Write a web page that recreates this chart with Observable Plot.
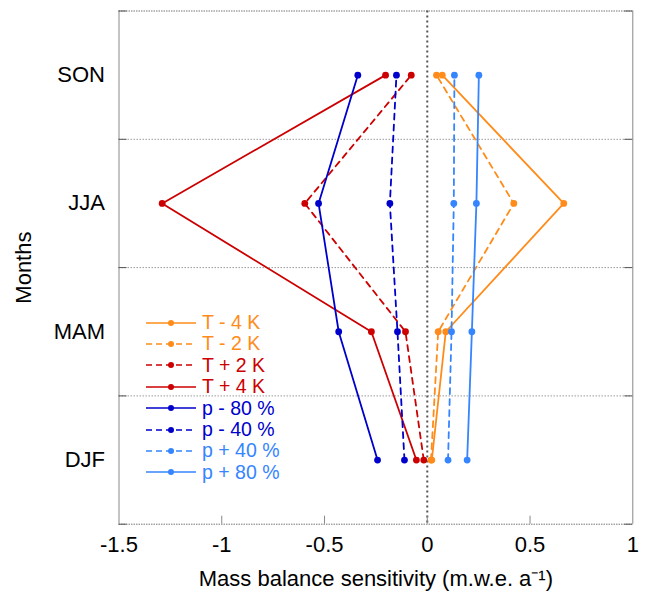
<!DOCTYPE html>
<html><head><meta charset="utf-8">
<script src="https://cdn.jsdelivr.net/npm/d3@7"></script>
<script src="https://cdn.jsdelivr.net/npm/@observablehq/plot@0.6"></script>
<style>
body{margin:0;background:#fff;}
#wrap{position:relative;width:645px;height:598px;font-family:"Liberation Sans",Arial,Helvetica,sans-serif;}
#wrap svg{display:block;}
#legend{position:absolute;left:146px;top:312px;}
.row{display:flex;align-items:center;height:21.4px;}
.row span{font-size:19.5px;margin-left:6px;line-height:1;white-space:pre;}
</style></head><body><div id="wrap"><div id="legend"></div></div>
<script>
// categories (y positions 1..4, bottom to top)
const seasons = ["DJF", "MAM", "JJA", "SON"];
const seasonPos = [1, 2, 3, 4];
const boundaries = [0.5, 1.5, 2.5, 3.5, 4.5];
const xTicks = [-1.5, -1, -0.5, 0, 0.5, 1];

const seriesNames = ["T - 4 K", "T - 2 K", "T + 2 K", "T + 4 K", "p - 80 %", "p - 40 %", "p + 40 %", "p + 80 %"];
const seriesColors = ["#ff8c1a", "#ff8c1a", "#cc0000", "#cc0000", "#0000cc", "#0000cc", "#3585ff", "#3585ff"];
const seriesDash = [null, "6,5", "6,5", null, null, "6,5", "6,5", null];

// values: DJF, MAM, JJA, SON
const tMinus4 = [0.022, 0.090, 0.664, 0.073];
const tMinus2 = [0.018, 0.053, 0.421, 0.045];
const tPlus2  = [-0.017, -0.106, -0.596, -0.078];
const tPlus4  = [-0.053, -0.272, -1.290, -0.203];
const pMinus80 = [-0.242, -0.431, -0.529, -0.338];
const pMinus40 = [-0.111, -0.145, -0.182, -0.150];
const pPlus40  = [0.101, 0.118, 0.129, 0.132];
const pPlus80  = [0.194, 0.217, 0.239, 0.251];
const seriesValues = [tMinus4, tMinus2, tPlus2, tPlus4, pMinus80, pMinus40, pPlus40, pPlus80];

const W = 645, H = 598, mL = 118.5, mR = 12.7, mT = 10.5, mB = 74.3;
const frameH = H - mT - mB, frameW = W - mL - mR;

const seriesMarks = [];
seriesValues.forEach((vals, k) => {
  const data = vals.map((v, i) => ({x: v, y: seasonPos[i]}));
  seriesMarks.push(Plot.line(data, {x: "x", y: "y", stroke: seriesColors[k], strokeWidth: 1.8, strokeDasharray: seriesDash[k] || undefined}));
  seriesMarks.push(Plot.dot(data, {x: "x", y: "y", fill: seriesColors[k], r: 3.4}));
});

const chart = Plot.plot({
  width: W, height: H,
  marginLeft: mL, marginRight: mR, marginTop: mT, marginBottom: mB,
  style: {fontFamily: '"Liberation Sans", Arial, Helvetica, sans-serif', fontSize: "22px", color: "#000", background: "#fff"},
  x: {domain: [-1.5, 1]},
  y: {domain: [0.5, 4.5]},
  marks: [
    Plot.ruleY(boundaries.slice(1, -1), {stroke: "#999", strokeDasharray: "1.5,1.5"}),
    Plot.ruleY([boundaries[0], boundaries[4]], {stroke: "#777", strokeDasharray: "1.5,1"}),
    Plot.ruleX([-1.5, 1], {stroke: "#888"}),
    Plot.ruleX([0], {stroke: "#555", strokeWidth: 2, strokeDasharray: "2,3"}),
    Plot.ruleX(xTicks.slice(1, -1), {insetTop: frameH - 8, stroke: "#888"}),
    Plot.ruleY(boundaries, {insetRight: frameW - 8, stroke: "#555"}),
    Plot.ruleY(boundaries, {insetLeft: frameW - 8, stroke: "#555"}),
    ...seriesMarks,
    Plot.axisX({ticks: xTicks, tickSize: 0, tickPadding: 12, tickFormat: d => String(d),
      label: "Mass balance sensitivity (m.w.e. a⁻¹)", labelArrow: "none", labelAnchor: "center", labelOffset: 62}),
    Plot.axisY({ticks: seasonPos, tickSize: 0, tickPadding: 14, tickFormat: d => seasons[d - 1],
      label: "Months", labelArrow: "none", labelAnchor: "center", labelOffset: 104})
  ]
});
const wrap = document.getElementById("wrap");
wrap.insertBefore(chart, wrap.firstChild);

// legend
const legend = document.getElementById("legend");
seriesNames.forEach((name, k) => {
  const row = document.createElement("div");
  row.className = "row";
  const dash = seriesDash[k] ? `stroke-dasharray="6,4"` : "";
  row.innerHTML = `<svg width="50" height="12"><line x1="0" y1="6" x2="50" y2="6" stroke="${seriesColors[k]}" stroke-width="1.6" ${dash}/><circle cx="25" cy="6" r="3" fill="${seriesColors[k]}"/></svg><span style="color:${seriesColors[k]}">${name}</span>`;
  legend.appendChild(row);
});
</script></body></html>
